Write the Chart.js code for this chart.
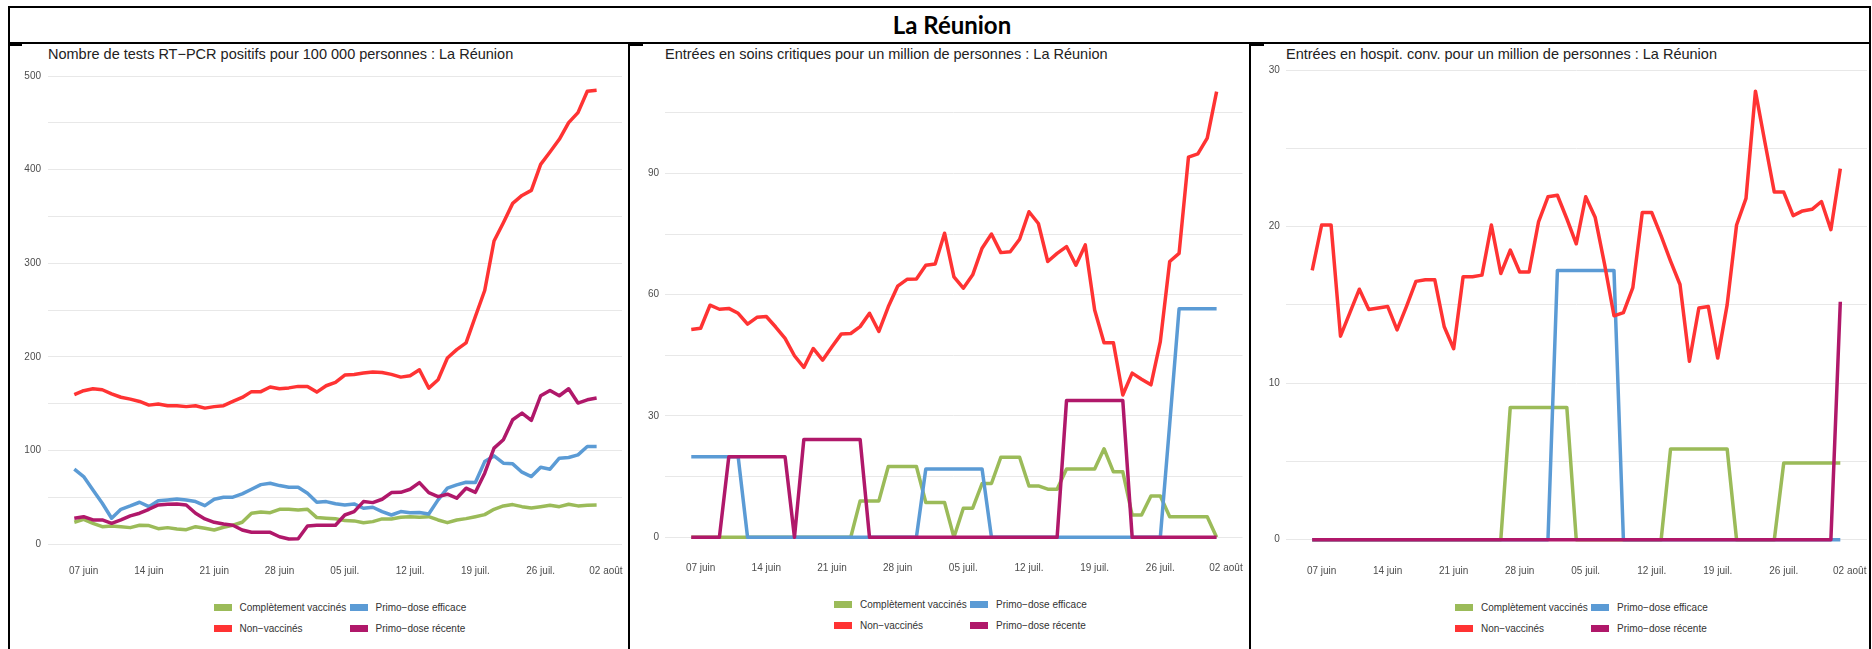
<!DOCTYPE html>
<html lang="fr">
<head>
<meta charset="UTF-8">
<title>La Réunion</title>
<style>
  body { margin: 0; background: #fff; font-family: 'Liberation Sans', Arial, sans-serif; }
  #page { position: relative; width: 1872px; height: 649px; overflow: hidden; background: #fff; }
  .rule { position: absolute; background: #000; }
  .heading { position: absolute; top: 8px; left: 16px; width: 1872px; text-align: center;
             font: bold 24px Lato, sans-serif; line-height: 34px; color: #000; }
  .ptitle { position: absolute; top: 46px; font-size: 14.5px; line-height: 16px; color: #222; white-space: nowrap; }
  canvas { position: absolute; top: 60px; }
  .item { position: absolute; display: flex; align-items: center; height: 12px;
          font-size: 10px; color: #333; white-space: nowrap; }
  .swatch { display: inline-block; width: 18px; height: 7px; margin-right: 8px; }
</style>
</head>
<body>
<div id="page">
  <div class="rule" style="left:8px; top:6px; width:1863px; height:2px"></div>
  <div class="rule" style="left:8px; top:42px; width:1863px; height:2px"></div>
  <div class="rule" style="left:8px; top:6px; width:2px; height:643px"></div>
  <div class="rule" style="left:628px; top:42px; width:2px; height:607px"></div>
  <div class="rule" style="left:1249px; top:42px; width:2px; height:607px"></div>
  <div class="rule" style="left:1869px; top:6px; width:2px; height:643px"></div>
  <div class="rule" style="left:8px; top:42px; width:14px; height:4px"></div>
  <div class="rule" style="left:628px; top:42px; width:15px; height:4px"></div>
  <div class="rule" style="left:1249px; top:42px; width:15px; height:4px"></div>
  <div class="heading">La Réunion</div>

  <div class="ptitle" style="left:48px">Nombre de tests RT−PCR positifs pour 100 000 personnes : La Réunion</div>
  <div class="ptitle" style="left:665px">Entrées en soins critiques pour un million de personnes : La Réunion</div>
  <div class="ptitle" style="left:1286px">Entrées en hospit. conv. pour un million de personnes : La Réunion</div>

  <canvas id="tests" width="616" height="530" style="left:10px"></canvas>
  <canvas id="critiques" width="616" height="530" style="left:631px"></canvas>
  <canvas id="hospit" width="617" height="530" style="left:1252px"></canvas>
</div>

<script src="https://cdn.jsdelivr.net/npm/chart.js"></script>
<script>
// one point per day, 06 juin -> 01 août
const dates = [
  '06 juin','07 juin','08 juin','09 juin','10 juin','11 juin','12 juin','13 juin','14 juin','15 juin',
  '16 juin','17 juin','18 juin','19 juin','20 juin','21 juin','22 juin','23 juin','24 juin','25 juin',
  '26 juin','27 juin','28 juin','29 juin','30 juin',
  '01 juil.','02 juil.','03 juil.','04 juil.','05 juil.','06 juil.','07 juil.','08 juil.','09 juil.','10 juil.',
  '11 juil.','12 juil.','13 juil.','14 juil.','15 juil.','16 juil.','17 juil.','18 juil.','19 juil.','20 juil.',
  '21 juil.','22 juil.','23 juil.','24 juil.','25 juil.','26 juil.','27 juil.','28 juil.','29 juil.','30 juil.',
  '31 juil.','01 août'
];
const weekTicks = ['07 juin','14 juin','21 juin','28 juin','05 juil.','12 juil.','19 juil.','26 juil.','02 août'];
const tickDays = [1, 8, 15, 22, 29, 36, 43, 50, 57];

const seriesNames = ['Complètement vaccinés', 'Primo−dose efficace', 'Non−vaccinés', 'Primo−dose récente'];
const seriesColors = ['#9bbb59', '#5b9bd5', '#ff3333', '#b0186a'];
const drawOrder = [3, 2, 0, 1]; // red on top, green at the bottom

// tests RT-PCR positifs / 100 000
const testsComplet = [23.5,26.7,22.4,18.8,19.6,18.8,17.8,20.3,20,16.7,17.8,16.4,15.6,18.8,17.1,15.3,18.2,20.3,23.5,33.2,
  34.5,33.8,37.4,37.4,36.7,37.4,28.5,27.8,27.3,25.3,25,23.1,24.2,27.1,27.1,28.8,29.5,28.8,29.5,26,
  23.1,26,27.4,29.5,31.7,37.4,41,42.4,40.2,38.8,40.2,41.7,40.2,42.8,41,41.7,42];
const testsEfficace = [80.2,72.3,58,43.8,27.8,37.4,41,44.9,40.2,46.6,47.4,48.4,47.4,45.6,41.3,48.1,50.3,50.3,53.8,58.8,
  63.7,65.2,62.7,61,61,54.5,44.9,45.6,43.3,42,43.1,38.5,39.6,34.9,31.3,34.9,33.8,33.9,32.4,47.4,
  59.9,63.4,66.3,66,88.3,94.4,86.6,85.9,77,72.3,82.3,80.2,92,92.7,95.5,104.4,104.4];
const testsNonVacc = [159.7,164,166,165,160.7,157,155,152.5,148.6,149.7,148,148,147,148,145.4,147,148,152.5,156.8,163,
  163,168,166,167,168.6,168.6,162.5,169.3,172.8,180.7,181.4,182.8,184,183.5,181.4,178.5,180,186.4,166.8,175.7,
  198.9,207.8,215,243.2,271,323.8,343.4,364,372.5,377.9,405.7,418.8,432.4,450.2,460.9,483.7,484.8];
const testsRecente = [27.8,29.5,26,26,22.4,26,30.3,33.2,37.4,42,42.8,43.1,42,33.2,27.1,23.5,21.7,20.3,15.3,12.8,
  12.8,12.8,8.1,5.7,5.9,19.6,20.3,20.3,20.3,31.3,34.9,45.6,44.5,48.1,55.2,55.5,58.8,65.9,55.2,50.9,
  53.5,49.2,59.9,55.5,75.9,102.7,111.6,133,140.1,132.2,158.6,164.3,158.6,166.1,150.8,154.3,156.1];

// entrées en soins critiques / million
const critComplet = [0,0,0,0,0,0,0,0,0,0,0,0,0,0,0,0,0,0,9,9,
  9,17.5,17.5,17.5,17.5,8.6,8.6,8.6,0,7.2,7.2,13.3,13.3,19.8,19.8,19.8,12.7,12.7,11.9,11.9,
  16.9,16.9,16.9,16.9,21.9,16.2,16.2,5.5,5.5,10.2,10.2,5.1,5.1,5.1,5.1,5.1,0];
const critEfficace = [19.9,19.9,19.9,19.9,19.9,19.9,0,0,0,0,0,0,0,0,0,0,0,0,0,0,
  0,0,0,0,0,16.9,16.9,16.9,16.9,16.9,16.9,16.9,0,0,0,0,0,0,0,0,
  0,0,0,0,0,0,0,0,0,0,0,28,56.5,56.5,56.5,56.5,56.5];
const critNonVacc = [51.4,51.7,57.4,56.4,56.6,55.4,52.7,54.4,54.6,52,49.2,44.9,42,46.7,43.8,47.1,50.3,50.4,52.1,55.4,
  50.9,57,62.1,63.8,63.9,67.3,67.6,75.2,64.4,61.6,64.9,71.5,75,70.4,70.6,73.7,80.5,77.6,68.2,70.2,
  71.9,67.3,72.3,56.2,48.1,48.1,35.2,40.6,39.1,37.7,48.4,68.2,70.2,94,94.8,98.7,110.2];
const critRecente = [0,0,0,0,19.9,19.9,19.9,19.9,19.9,19.9,19.9,0,24.2,24.2,24.2,24.2,24.2,24.2,24.2,0,
  0,0,0,0,0,0,0,0,0,0,0,0,0,0,0,0,0,0,0,0,
  33.8,33.8,33.8,33.8,33.8,33.8,33.8,0,0,0,0,0,0,0,0,0,0];

// entrées en hospitalisation conventionnelle / million
const hospComplet = [0,0,0,0,0,0,0,0,0,0,0,0,0,0,0,0,0,0,0,0,
  0,8.45,8.45,8.45,8.45,8.45,8.45,8.45,0,0,0,0,0,0,0,0,0,0,5.8,5.8,
  5.8,5.8,5.8,5.8,5.8,0,0,0,0,0,4.9,4.9,4.9,4.9,4.9,4.9,4.9];
const hospEfficace = [0,0,0,0,0,0,0,0,0,0,0,0,0,0,0,0,0,0,0,0,
  0,0,0,0,0,0,17.2,17.2,17.2,17.2,17.2,17.2,17.2,0,0,0,0,0,0,0,
  0,0,0,0,0,0,0,0,0,0,0,0,0,0,0,0,0];
const hospNonVacc = [17.2,20.1,20.1,13,14.5,16,14.7,14.8,14.9,13.4,14.9,16.5,16.6,16.6,13.6,12.2,16.8,16.8,16.9,20.1,
  17,18.5,17.1,17.1,20.3,21.9,22,20.5,18.9,21.9,20.6,17.6,14.3,14.5,16.1,20.9,20.9,19.4,17.8,16.3,
  11.4,14.8,14.9,11.6,15,20.1,21.8,28.65,25.4,22.2,22.2,20.7,21,21.1,21.6,19.8,23.7];
const hospRecente = [0,0,0,0,0,0,0,0,0,0,0,0,0,0,0,0,0,0,0,0,
  0,0,0,0,0,0,0,0,0,0,0,0,0,0,0,0,0,0,0,0,
  0,0,0,0,0,0,0,0,0,0,0,0,0,0,0,0,15.2];

const testsGrid = [0, 50, 100, 150, 200, 250, 300, 350, 400, 450, 500];
const critGrid = [0, 15, 30, 45, 60, 75, 90, 105];
const hospGrid = [0, 5, 10, 15, 20, 25, 30];

const panels = [
  { id: 'tests', series: [testsComplet, testsEfficace, testsNonVacc, testsRecente],
    yGrid: testsGrid, labelStep: 100, yMax: 500, xMin: -2.82, xMax: 58.72,
    yAxisW: 38, yTickPad: 7, padTop: 16, padRight: 4, padBottom: 5.7, xTickPad: 21,
    legendX: 213.5, legendY: 607.3 },
  { id: 'critiques', series: [critComplet, critEfficace, critNonVacc, critRecente],
    yGrid: critGrid, labelStep: 30, yMax: 112, xMin: -2.80, xMax: 58.76,
    yAxisW: 34, yTickPad: 6, padTop: 24.4, padRight: 4.5, padBottom: 12.7, xTickPad: 25,
    legendX: 834, legendY: 604.3 },
  { id: 'hospit', series: [hospComplet, hospEfficace, hospNonVacc, hospRecente],
    yGrid: hospGrid, labelStep: 10, yMax: 30, xMin: -2.80, xMax: 58.83,
    yAxisW: 33.8, yTickPad: 6, padTop: 10, padRight: 2, padBottom: 10.3, xTickPad: 25.5,
    legendX: 1455, legendY: 607 }
];

Chart.defaults.font.family = "'Liberation Sans', Arial, sans-serif";
Chart.defaults.font.size = 10;
Chart.defaults.color = '#4d4d4d';

const page = document.getElementById('page');
const legendRows = [[0, 1], [2, 3]];

function buildLegend(p) {
  legendRows.forEach((row, r) => row.forEach((k, c) => {
    const item = document.createElement('div');
    item.className = 'item';
    item.style.left = (p.legendX + c * 136) + 'px';
    item.style.top = (p.legendY + r * 21 - 6) + 'px';
    item.innerHTML = '<span class="swatch" style="background:' + seriesColors[k] + '"></span>' + seriesNames[k];
    page.appendChild(item);
  }));
}

function buildChart(p) {
  const datasets = p.series.map((values, k) => ({
    label: seriesNames[k],
    data: values.map((v, i) => ({ x: i, y: v })),
    borderColor: seriesColors[k],
    backgroundColor: seriesColors[k],
    borderWidth: 3.5,
    borderJoinStyle: 'round',
    pointRadius: 0,
    tension: 0,
    order: drawOrder[k],
    clip: false
  }));

  new Chart(document.getElementById(p.id), {
    type: 'line',
    data: { datasets: datasets },
    options: {
      responsive: false,
      animation: false,
      events: [],
      devicePixelRatio: 1,
      layout: { padding: { top: p.padTop, right: p.padRight, bottom: p.padBottom, left: 0 } },
      plugins: { legend: { display: false }, tooltip: { enabled: false } },
      scales: {
        x: {
          type: 'linear', min: p.xMin, max: p.xMax,
          grid: { display: false, drawTicks: false },
          border: { display: false },
          ticks: { padding: p.xTickPad, maxRotation: 0, autoSkip: false,
                   callback: (v) => weekTicks[tickDays.indexOf(v)] },
          afterBuildTicks: (s) => { s.ticks = tickDays.map(v => ({ value: v })); },
          afterFit: (s) => { s.height = 40; s.paddingLeft = 0; s.paddingRight = 0; }
        },
        y: {
          min: 0, max: p.yMax,
          grid: { color: '#e8e8e8', drawTicks: false },
          border: { display: false },
          ticks: { padding: p.yTickPad, callback: (v) => (v % p.labelStep === 0 ? v : '') },
          afterBuildTicks: (s) => { s.ticks = p.yGrid.map(v => ({ value: v })); },
          afterFit: (s) => { s.width = p.yAxisW; s.paddingTop = 0; s.paddingBottom = 0; }
        }
      }
    }
  });
  buildLegend(p);
}

panels.forEach(buildChart);
</script>
</body>
</html>
